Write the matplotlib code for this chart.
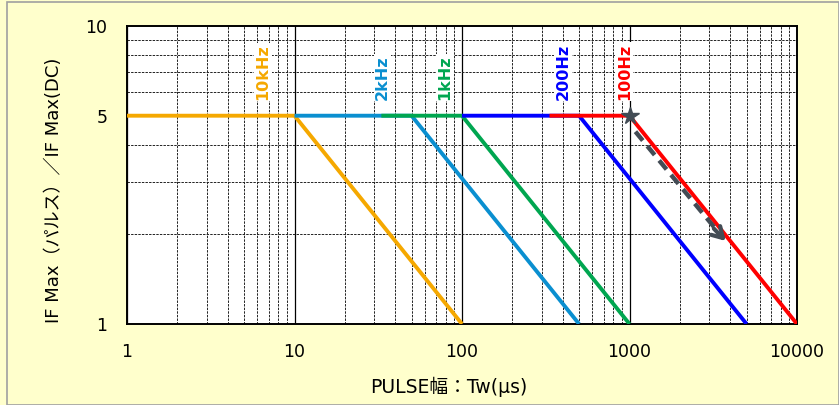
import matplotlib
matplotlib.use("Agg")
import matplotlib.pyplot as plt
from matplotlib.patches import Rectangle
from matplotlib.ticker import FixedLocator, NullFormatter

plt.rcParams['font.family'] = ['DejaVu Sans', 'Noto Sans CJK JP']

# ---- data ----
series_names = ["10kHz", "2kHz", "1kHz", "200Hz", "100Hz"]
series_colors = ["#F5A800", "#0A8FD0", "#00A650", "#0000FF", "#FF0000"]
series_x = [
    [1, 10, 100],
    [10, 50, 500],
    [33, 100, 1000],
    [100, 500, 5000],
    [333, 1000, 10000],
]
series_y = [
    [5, 5, 1],
    [5, 5, 1],
    [5, 5, 1],
    [5, 5, 1],
    [5, 5, 1],
]
label_x = [6.5, 33.5, 79, 400, 930]
label_y = 5.65
star_point = (1000, 5)
arrow_start = (1085, 4.42)
arrow_end = (3750, 1.9)
x_ticks = [1, 10, 100, 1000, 10000]
x_ticklabels = ["1", "10", "100", "1000", "10000"]
y_ticks = [1, 5, 10]
y_ticklabels = ["1", "5", "10"]
x_label = "PULSE幅：Tw(μs)"
y_label = "IF Max（パルス）／IF Max(DC)"

fig = plt.figure(figsize=(8.39, 4.05), dpi=100)
fig.patch.set_facecolor("#FFFFCC")
fig.patches.append(Rectangle((7/839, 0), 1 - 7/839 - 0.0005, 1 - 2/405, transform=fig.transFigure,
                             fill=False, edgecolor="#A0A0A0", linewidth=1.2))
ax = fig.add_axes([127/839, 1 - 324/405, (797 - 127)/839, (324 - 26)/405])
ax.set_facecolor("white")
ax.set_xscale("log")
ax.set_yscale("log")
ax.set_xlim(1, 10000)
ax.set_ylim(1, 10)

# grid
ax.xaxis.set_minor_locator(FixedLocator([m * 10**d for d in range(4) for m in range(2, 10)]))
ax.yaxis.set_minor_locator(FixedLocator([2, 3, 4, 5, 6, 7, 8, 9]))
ax.xaxis.set_major_locator(FixedLocator(x_ticks))
ax.yaxis.set_major_locator(FixedLocator(y_ticks))
ax.set_xticklabels(x_ticklabels)
ax.set_yticklabels(y_ticklabels)
ax.xaxis.set_minor_formatter(NullFormatter())
ax.yaxis.set_minor_formatter(NullFormatter())
ax.grid(which="major", axis="x", color="black", linewidth=0.9, linestyle="-")
ax.grid(which="minor", axis="both", color="#222222", linewidth=0.7, linestyle=(0, (2.5, 1.2)))
ax.set_axisbelow(True)
ax.tick_params(which="both", length=0, labelsize=12.5, colors="black")
ax.tick_params(axis="x", pad=14)
ax.tick_params(axis="y", pad=14)
for s in ax.spines.values():
    s.set_linewidth(1.4)
    s.set_color("black")

for xs, ys, c in zip(series_x, series_y, series_colors):
    ax.plot(xs, ys, color=c, linewidth=2.8, solid_capstyle="butt", zorder=3)

for name, lx, c in zip(series_names, label_x, series_colors):
    ax.text(lx, label_y, name, rotation=90, color=c, fontsize=11.5, fontweight="bold",
            ha="center", va="bottom", zorder=4,
            bbox=dict(facecolor="white", edgecolor="none", pad=1.0))

arrow_col = "#434C55"
ax.plot([arrow_start[0], arrow_end[0] * 0.97], [arrow_start[1], arrow_end[1] * 1.02], color=arrow_col,
        linewidth=3.2, linestyle=(0, (2.6, 1.6)), zorder=5)
ax.annotate("", xy=arrow_end, xytext=(arrow_end[0] * 0.85, arrow_end[1] * 1.1),
            arrowprops=dict(arrowstyle="->,head_length=0.75,head_width=0.45", color=arrow_col,
                            linewidth=3.0, shrinkA=0, shrinkB=0), zorder=5)
ax.plot([star_point[0]], [star_point[1]], marker="*", markersize=13, color=arrow_col,
        markeredgecolor=arrow_col, zorder=6)

ax.set_xlabel(x_label, fontsize=13.5, family=['DejaVu Sans', 'Noto Sans CJK JP'])
ax.set_ylabel(y_label, fontsize=13, family=['DejaVu Sans', 'Noto Sans CJK JP'])
ax.xaxis.set_label_coords(0.48, -0.178)
ax.yaxis.set_label_coords(-0.0955, 0.45)

fig.savefig("out.png", dpi=100, facecolor=fig.get_facecolor())
